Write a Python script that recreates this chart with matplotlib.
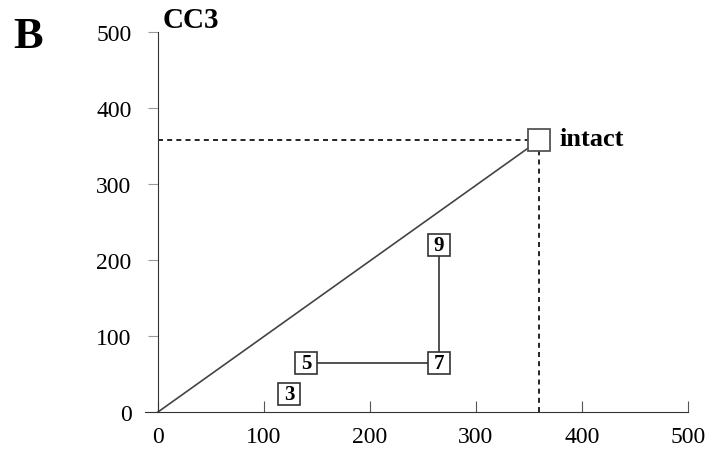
import numpy as np
import matplotlib.pyplot as plt

plt.rcParams['font.family'] = ['Liberation Serif', 'DejaVu Serif']

# data
intact = (360, 358)
labels = ['3', '5', '7', '9']
xs = [124, 140, 265, 265]
ys = [24, 65, 65, 220]
xticks = [0, 100, 200, 300, 400, 500]
yticks = [0, 100, 200, 300, 400, 500]

fig = plt.figure(figsize=(7.15, 4.6), dpi=100)
ax = fig.add_axes([0.203, 0.102, 0.759, 0.826])
ax.set_xlim(-12, 500)
ax.set_ylim(0, 500)

ax.spines['top'].set_visible(False)
ax.spines['right'].set_visible(False)
ax.spines['left'].set_position(('data', 0))
ax.spines['left'].set_color('#333333')
ax.spines['bottom'].set_color('#333333')

ax.set_xticks(xticks)
ax.set_yticks(yticks)
ax.tick_params(axis='x', direction='in', length=8, labelsize=17, pad=10, color='#555555')
ax.tick_params(axis='y', direction='out', length=7, labelsize=17, pad=12, color='#999999')

# diagonal and guides
ax.plot([0, intact[0]], [0, intact[1]], color='#444444', lw=1.2)
ax.plot([0, intact[0]], [intact[1], intact[1]], ls=(0, (3, 2.5)), color='black', lw=1.2)
ax.plot([intact[0], intact[0]], [0, intact[1]], ls=(0, (3, 2.5)), color='black', lw=1.2)
ax.plot(intact[0], intact[1], marker='s', ms=16, mfc='white', mec='#555555', mew=1.3,
        clip_on=False, zorder=3)
ax.text(intact[0] + 19, intact[1] + 2, 'intact', fontsize=19, fontweight='bold', va='center', ha='left')

# path between 5 -> 7 -> 9
ax.plot(xs[1:], ys[1:], color='#333333', lw=1.2, zorder=2)
ax.plot(xs, ys, ls='none', marker='s', ms=16, mfc='white', mec='#333333', mew=1.2, zorder=3)
for lab, x, y in zip(labels, xs, ys):
    ax.text(x, y, lab, fontsize=15, fontweight='bold', ha='center', va='center', zorder=4)

fig.text(0.018, 0.895, 'B', fontsize=32, fontweight='bold')
fig.text(0.228, 0.94, 'CC3', fontsize=21, fontweight='bold')

fig.savefig('out.png', dpi=100)
